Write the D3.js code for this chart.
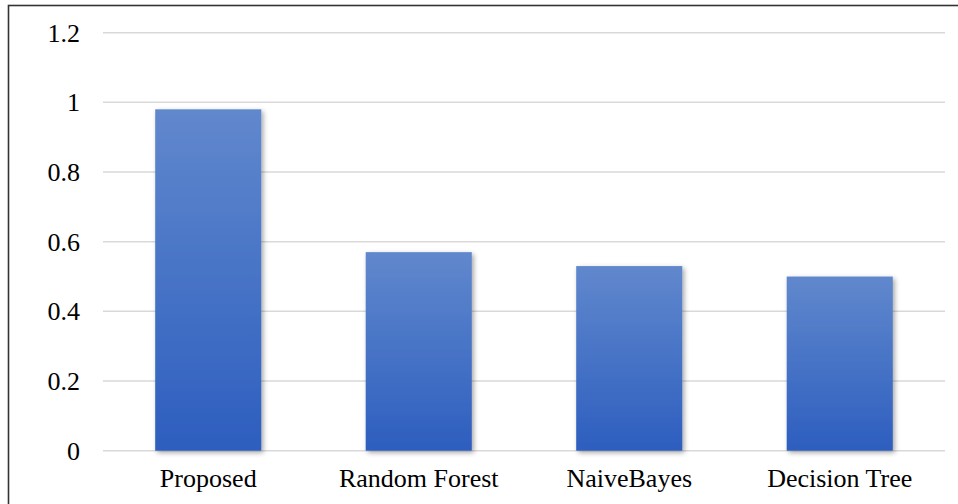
<!DOCTYPE html>
<html><head><meta charset="utf-8">
<script src="https://cdn.jsdelivr.net/npm/d3@7"></script>
<style>body{margin:0;background:#fff}svg{display:block}</style>
</head><body>
<script>
const categories = ["Proposed", "Random Forest", "NaiveBayes", "Decision Tree"];
const values = [0.98, 0.57, 0.53, 0.50];
const yTicks = [0, 0.2, 0.4, 0.6, 0.8, 1, 1.2];
const yTickLabels = ["0", "0.2", "0.4", "0.6", "0.8", "1", "1.2"];

const W = 958, H = 504;
const svg = d3.select("body").append("svg").attr("width", W).attr("height", H);
const defs = svg.append("defs");
const grad = defs.append("linearGradient").attr("id", "barGrad")
  .attr("x1", 0).attr("y1", 0).attr("x2", 0).attr("y2", 1);
grad.append("stop").attr("offset", "0%").attr("stop-color", "#6188cd");
grad.append("stop").attr("offset", "100%").attr("stop-color", "#2d5ebf");
const f = defs.append("filter").attr("id", "shadow").attr("x", "-20%").attr("y", "-20%").attr("width", "140%").attr("height", "140%");
f.append("feDropShadow").attr("dx", 2).attr("dy", 2).attr("stdDeviation", 2.5).attr("flood-color", "#000").attr("flood-opacity", 0.35);

// outer border
svg.append("rect").attr("x", 8.5).attr("y", 5.5).attr("width", W).attr("height", H)
  .attr("fill", "none").attr("stroke", "#333").attr("stroke-width", 1.6);

const x = d3.scaleBand().domain(categories).range([103, 945]).paddingInner(0.496).paddingOuter(0.248);
const y = d3.scaleLinear().domain([0, 1.2]).range([450.7, 32.7]);

const grid = svg.append("g");
grid.selectAll("line").data(yTicks).join("line")
  .attr("x1", 103).attr("x2", 945)
  .attr("y1", d => y(d)).attr("y2", d => y(d))
  .attr("stroke", "#d9d9d9").attr("stroke-width", 1.5);

const yAxis = d3.axisLeft(y).tickValues(yTicks).tickFormat((d, i) => yTickLabels[i]).tickSize(0).tickPadding(0);
const ya = svg.append("g").attr("transform", "translate(80,0)").call(yAxis);
ya.select(".domain").remove();
ya.selectAll("text").attr("font-family", "'Liberation Serif', 'Times New Roman', serif")
  .attr("font-size", 26).attr("fill", "#000");

svg.append("g").selectAll("rect").data(values).join("rect")
  .attr("x", (d, i) => x(categories[i]))
  .attr("width", x.bandwidth())
  .attr("y", d => y(d))
  .attr("height", d => y(0) - y(d))
  .attr("fill", "url(#barGrad)")
  .attr("filter", "url(#shadow)");

const xAxis = d3.axisBottom(x).tickSize(0).tickPadding(0);
const xa = svg.append("g").attr("transform", "translate(0,469)").call(xAxis);
xa.select(".domain").remove();
xa.selectAll("text").attr("font-family", "'Liberation Serif', 'Times New Roman', serif")
  .attr("font-size", 26).attr("fill", "#000").attr("dy", "0.71em");
</script>
</body></html>
